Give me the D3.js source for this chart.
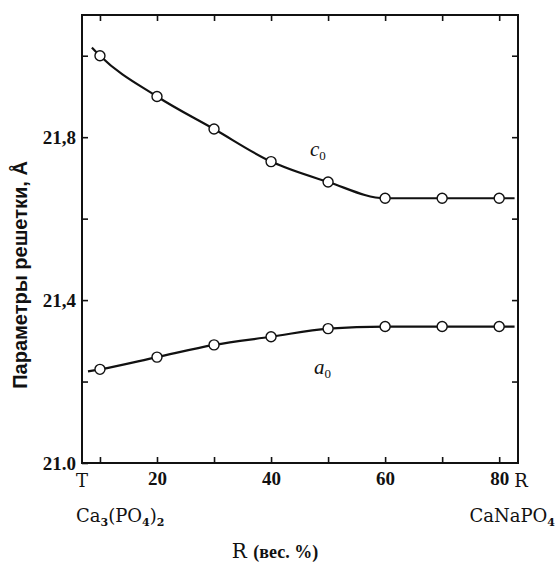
<!DOCTYPE html>
<html>
<head>
<meta charset="utf-8">
<script src="https://cdn.jsdelivr.net/npm/d3@7"></script>
<style>
  body { margin: 0; background: #fff; }
  svg text { fill: #111; }
</style>
</head>
<body>
<main></main>
<script>
var w = 555;
var h = 563;

// values
var ratio = [10, 20, 30, 40, 50, 60, 70, 80];
var c0 = [22.00, 21.90, 21.82, 21.74, 21.69, 21.65, 21.65, 21.65];
var a0 = [21.23, 21.26, 21.29, 21.31, 21.33, 21.335, 21.335, 21.335];
// where the drawn curves start and stop (beyond the points)
var c0Ends = [[8.6, 22.02], [82.7, 21.65]];
var a0Ends = [[7.9, 21.225], [82.7, 21.335]];

var xTicks = [10, 20, 30, 40, 50, 60, 70, 80];
var xLabels = {20: "20", 40: "40", 60: "60", 80: "80"};
var yTicks = [21.2, 21.4, 21.6, 21.8, 22.0];
var yLabels = {"21": "21.0", "21.4": "21,4", "21.8": "21,8"};

var svg = d3.select("main").append("svg").attr("width", w).attr("height", h);

// plot box (don't call it "top", window.top is read-only)
var pLeft = 82, pRight = 518, pTop = 15, pBottom = 463;
var xScale = d3.scaleLinear().domain([6.85, 83.3]).range([pLeft, pRight]);
var yScale = d3.scaleLinear().domain([21.0, 22.1]).range([pBottom, pTop]);

// frame
svg.append("rect")
  .attr("x", pLeft).attr("y", pTop)
  .attr("width", pRight - pLeft).attr("height", pBottom - pTop)
  .attr("fill", "none").attr("stroke", "#111").attr("stroke-width", 2);

// AXES (ticks point inward)
var serif = "'Liberation Serif', 'DejaVu Serif', serif";
var wide = "'DejaVu Serif', serif";

var xAxis = d3.axisBottom(xScale).tickValues(xTicks)
  .tickSize(-6).tickPadding(9)
  .tickFormat(function (d) { return xLabels[d] || ""; });
svg.append("g").attr("class", "axis x")
  .attr("transform", "translate(0," + pBottom + ")")
  .call(xAxis);

svg.append("g").attr("class", "axis xtop")
  .attr("transform", "translate(0," + pTop + ")")
  .call(d3.axisTop(xScale).tickValues(xTicks).tickSize(-6).tickFormat(""));

var yAxis = d3.axisLeft(yScale).tickValues([21.0].concat(yTicks))
  .tickSize(-6).tickPadding(6)
  .tickFormat(function (d) { return yLabels[String(+d.toFixed(1))] || ""; });
svg.append("g").attr("class", "axis y")
  .attr("transform", "translate(" + pLeft + ",0)")
  .call(yAxis);

svg.append("g").attr("class", "axis yright")
  .attr("transform", "translate(" + pRight + ",0)")
  .call(d3.axisRight(yScale).tickValues(yTicks).tickSize(-6).tickFormat(""));

svg.selectAll(".axis path").remove();
svg.selectAll(".axis line").attr("stroke", "#111").attr("stroke-width", 1.6);
svg.selectAll(".axis text")
  .attr("font-family", serif)
  .attr("font-weight", "bold")
  .attr("font-size", "19px")
  .attr("fill", "#111");

// T and R at the ends of the x axis
svg.append("text")
  .attr("x", xScale(xScale.domain()[0])).attr("y", 487)
  .attr("text-anchor", "middle")
  .attr("font-family", wide).attr("font-size", "18px")
  .text("T");
svg.append("text")
  .attr("x", xScale(xScale.domain()[1]) + 3).attr("y", 487)
  .attr("text-anchor", "middle")
  .attr("font-family", wide).attr("font-size", "18px")
  .text("R");

// CURVES
var line = d3.line()
  .x(function (d) { return xScale(d[0]); })
  .y(function (d) { return yScale(d[1]); })
  .curve(d3.curveMonotoneX);

function series(vals, ends) {
  var pts = ratio.map(function (r, i) { return [r, vals[i]]; });
  return [ends[0]].concat(pts, [ends[1]]);
}

[[c0, c0Ends], [a0, a0Ends]].forEach(function (s) {
  svg.append("path")
    .datum(series(s[0], s[1]))
    .attr("d", line)
    .attr("fill", "none")
    .attr("stroke", "#111")
    .attr("stroke-width", 2.2);

  svg.selectAll(null)
    .data(s[0])
    .enter()
    .append("circle")
    .attr("cx", function (d, i) { return xScale(ratio[i]); })
    .attr("cy", function (d) { return yScale(d); })
    .attr("r", 5)
    .attr("fill", "#fff")
    .attr("stroke", "#111")
    .attr("stroke-width", 1.4);
});

// curve labels
function curveLabel(x, y, letter) {
  var t = svg.append("text")
    .attr("x", x).attr("y", y)
    .attr("font-family", serif)
    .attr("font-style", "italic")
    .attr("font-size", "21px");
  t.append("tspan").text(letter);
  t.append("tspan").attr("dy", 4).attr("font-size", "13px").attr("font-style", "normal").text("0");
}
curveLabel(310, 156, "c");
curveLabel(314, 374, "a");

// compound names
var ca = svg.append("text")
  .attr("x", 76).attr("y", 522)
  .attr("font-family", wide).attr("font-size", "18px");
ca.append("tspan").text("Ca");
ca.append("tspan").attr("font-size", "11px").attr("font-weight", "bold").attr("dy", 4).text("3");
ca.append("tspan").attr("dy", -4).text("(PO");
ca.append("tspan").attr("font-size", "11px").attr("font-weight", "bold").attr("dy", 4).text("4");
ca.append("tspan").attr("dy", -4).text(")");
ca.append("tspan").attr("font-size", "11px").attr("font-weight", "bold").attr("dy", 4).text("2");

var cn = svg.append("text")
  .attr("x", 555).attr("y", 522)
  .attr("text-anchor", "end")
  .attr("font-family", wide).attr("font-size", "18px");
cn.append("tspan").text("CaNaPO");
cn.append("tspan").attr("font-size", "11px").attr("font-weight", "bold").attr("dy", 4).text("4");

// x axis title
var xt = svg.append("text")
  .attr("x", 275).attr("y", 558)
  .attr("text-anchor", "middle")
  .attr("font-family", serif);
xt.append("tspan").attr("font-family", wide).attr("font-size", "20px").text("R ");
xt.append("tspan").attr("font-size", "18px").attr("font-weight", "bold").text(" (вес. %)");

// y axis title
svg.append("text")
  .attr("transform", "translate(27," + 275 + ") rotate(-90)")
  .attr("text-anchor", "middle")
  .attr("font-family", "'Liberation Sans', Arial, sans-serif")
  .attr("font-weight", "bold")
  .attr("font-size", "20px")
  .text("Параметры решетки,  Å");
</script>
</body>
</html>
